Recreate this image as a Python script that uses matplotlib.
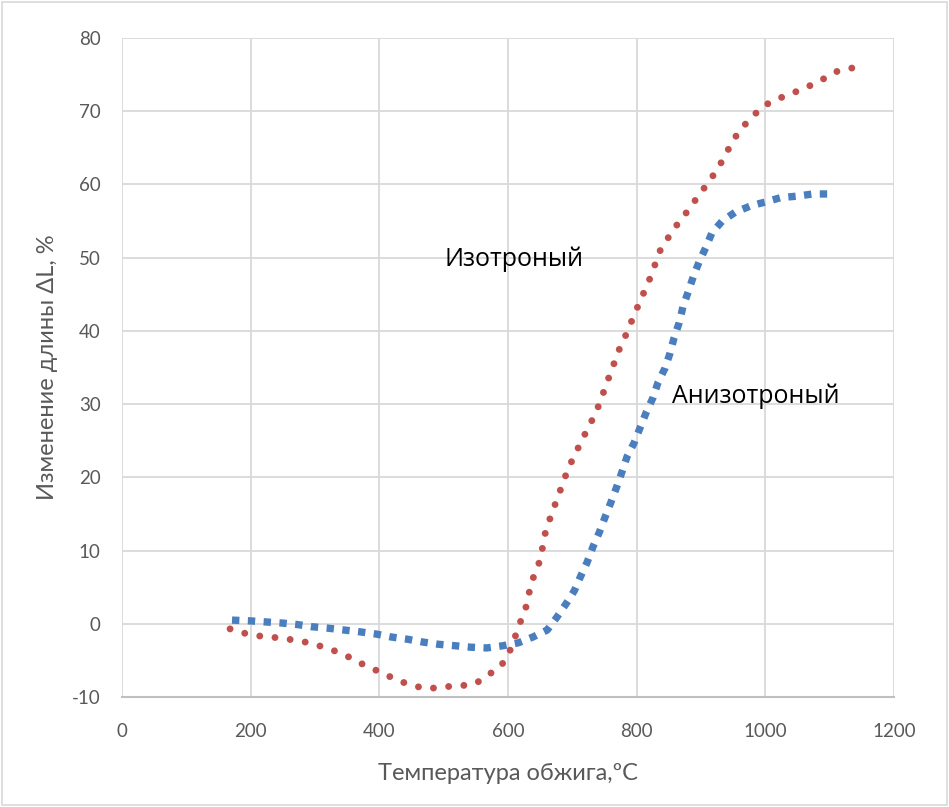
import matplotlib
matplotlib.use("Agg")
import matplotlib.pyplot as plt
from matplotlib.patches import Rectangle

# Изотроный (red, dotted)
iso_x = [168, 191, 216, 241, 266, 291, 314, 337, 359, 382, 405, 427, 451, 474, 499, 524, 549, 569,
         589, 602, 611, 619, 628, 633, 640, 650, 659, 668, 676, 685, 693, 704, 715, 726, 737, 746,
         754, 763, 771, 782, 800.6, 820.8, 837.9, 851.9, 865.9, 881.4, 895.4, 910.9, 924.9, 937.4,
         948.2, 962.2, 979.3, 996.4, 1019.7, 1043.1, 1064.8, 1088.1, 1109.9, 1134.8]
iso_y = [-0.7, -1.3, -1.7, -1.9, -2.2, -2.6, -3.2, -3.9, -4.8, -5.9, -6.7, -7.7, -8.4, -8.9, -8.6,
         -8.5, -8.2, -7.0, -5.8, -3.9, -1.8, 0.2, 2.3, 4.3, 6.5, 8.7, 12.9, 15.0, 17.0, 19.1, 21.1,
         23.1, 25.1, 27.0, 28.9, 31.0, 33.0, 35.1, 37.1, 39.2, 43.1, 47.2, 51.3, 53.1, 54.9, 56.6,
         58.4, 60.2, 62.0, 63.9, 65.8, 67.6, 69.2, 70.7, 71.7, 72.5, 73.3, 74.3, 75.4, 75.9]

# Анизотроный (blue, square dots)
aniso_x = [171, 199, 224, 249, 272, 295, 320, 345, 370, 395, 418, 443, 468, 492, 518, 542, 567, 592,
           616, 639, 661, 676, 690, 703, 713, 723, 732, 742, 751, 760, 769, 777, 785, 796, 805, 815,
           825, 833, 844, 852, 858, 866, 872, 880, 888, 897, 908, 917, 933, 953, 978, 1000, 1024,
           1049, 1074, 1104]
aniso_y = [0.5, 0.4, 0.25, 0.1, -0.1, -0.4, -0.6, -0.85, -1.1, -1.4, -1.8, -2.1, -2.5, -2.8, -3.0,
           -3.2, -3.3, -3.0, -2.6, -1.8, -0.85, 0.9, 2.7, 4.5, 6.5, 8.4, 10.5, 12.5, 14.6, 16.6, 18.7,
           20.7, 22.8, 24.7, 26.7, 28.9, 30.8, 32.9, 34.9, 37.0, 39.0, 41.1, 43.3, 45.3, 47.4, 49.4,
           51.5, 53.4, 55.0, 56.2, 57.1, 57.6, 58.2, 58.4, 58.7, 58.7]

x_ticks = [0, 200, 400, 600, 800, 1000, 1200]
y_ticks = [-10, 0, 10, 20, 30, 40, 50, 60, 70, 80]

plt.rcParams['font.family'] = ['Lato', 'DejaVu Sans']
plt.rcParams['axes.unicode_minus'] = False

fig = plt.figure(figsize=(9.49, 8.07), dpi=100)
ax = fig.add_axes([122/949, 1-697/807, (894-122)/949, (697-38)/807])

grid_c = '#d9d9d9'
for v in x_ticks:
    ax.axvline(v, color=grid_c, lw=1.3, zorder=0)
for v in y_ticks:
    ax.axhline(v, color=grid_c, lw=1.3, zorder=0)

l1, = ax.plot(aniso_x, aniso_y, color='#4a7ebf', lw=5.3, solid_capstyle='butt', dash_capstyle='butt')
l1.set_dashes((1.0, 1.15))
l2, = ax.plot(iso_x, iso_y, color='#c0504d', lw=5.0, dash_capstyle='round')
l2.set_dashes((0.001, 2.2))

ax.set_xlim(0, 1200)
ax.set_ylim(-10, 80)
ax.set_xticks(x_ticks)
ax.set_yticks(y_ticks)
for s in ['top', 'right', 'left']:
    ax.spines[s].set_visible(False)
ax.spines['bottom'].set_color('#bfbfbf')
ax.spines['bottom'].set_linewidth(1.5)
ax.tick_params(length=0, labelsize=13.5, labelcolor='#595959')
ax.tick_params(axis='x', pad=19)
ax.tick_params(axis='y', pad=15.5)

ax.set_xlabel('Температура обжига,ºС', fontsize=17, color='#595959', labelpad=16.5)
ax.set_ylabel('Изменение длины ΔL, %', fontsize=17, color='#595959', labelpad=10)

ax.text(610, 48.86, 'Изотроный', fontsize=18, ha='center', va='baseline', color='black',
        family=['Open Sans', 'DejaVu Sans'])
ax.text(985, 30.19, 'Анизотроный', fontsize=18, ha='center', va='baseline', color='black',
        family=['Open Sans', 'DejaVu Sans'])

fig.patches.append(Rectangle((0.002, 0.002), 0.996, 0.996, transform=fig.transFigure,
                             fill=False, edgecolor='#d9d9d9', lw=1.2))

fig.savefig('out.png', dpi=100, facecolor='white')
